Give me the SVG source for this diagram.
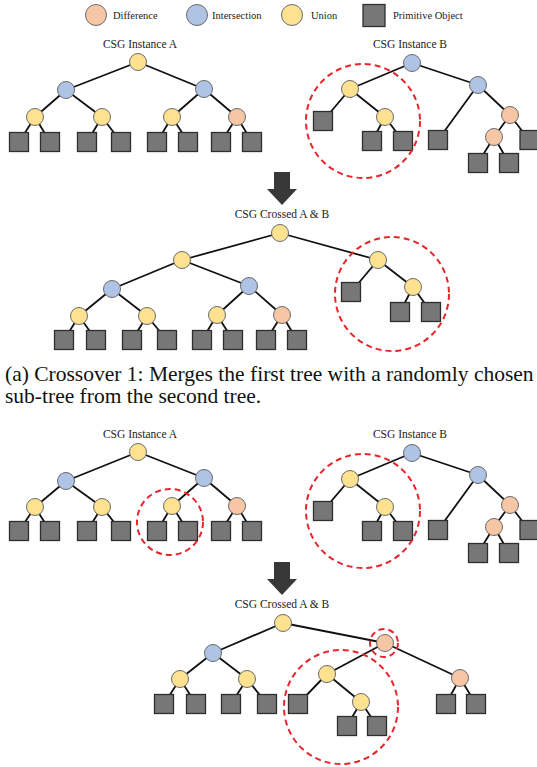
<svg xmlns="http://www.w3.org/2000/svg" width="537" height="767" viewBox="0 0 537 767">
<style>
.u{fill:#FEE290;stroke:#6b6b6b;stroke-width:1}
.i{fill:#AFC3E5;stroke:#6b6b6b;stroke-width:1}
.d{fill:#F6C6A5;stroke:#6b6b6b;stroke-width:1}
.p{fill:#777777;stroke:#2e2e2e;stroke-width:1.3}
.e{stroke:#111;stroke-width:1.8;fill:none}
.sel{fill:none;stroke:#E8252A;stroke-width:2;stroke-dasharray:6 4}
.t{font-family:"Liberation Serif",serif;font-size:11.5px;fill:#222;text-anchor:middle}
.lg{font-family:"Liberation Serif",serif;font-size:10.5px;fill:#222}
.cap{font-family:"Liberation Serif",serif;font-size:21.5px;fill:#111}
.arr{fill:#383838}
</style>

<g id="legend">
<g id="lg-diff"><circle class="d" cx="96" cy="15" r="10.5"/><text class="lg" x="113" y="19">Difference</text></g>
<g id="lg-inter"><circle class="i" cx="197" cy="15" r="10.5"/><text class="lg" x="212" y="19">Intersection</text></g>
<g id="lg-union"><circle class="u" cx="292" cy="15" r="10.5"/><text class="lg" x="311" y="19">Union</text></g>
<g id="lg-prim"><rect class="p" x="363" y="4.5" width="22" height="22"/><text class="lg" x="393" y="19">Primitive Object</text></g>
</g>

<!-- ===== Part (a) ===== -->
<g id="a-instA">
<text class="t" x="140" y="48">CSG Instance A</text>
<g id="a-instA-connectors">
<path class="e" d="M138,62L66,90M138,62L204,89M66,90L35,117M66,90L102,117M204,89L172,117M204,89L237,117M35,117L19,142M35,117L50,142M102,117L87,142M102,117L121,142M172,117L157,142M172,117L188,142M237,117L221,142M237,117L252,142"/>
</g>
<g id="aA-n1"><circle class="u" cx="138" cy="62" r="8.5"/></g>
<g id="aA-n2"><circle class="i" cx="66" cy="90" r="8.5"/></g>
<g id="aA-n3"><circle class="i" cx="204" cy="89" r="8.5"/></g>
<g id="aA-n4"><circle class="u" cx="35" cy="117" r="8.5"/></g>
<g id="aA-n5"><circle class="u" cx="102" cy="117" r="8.5"/></g>
<g id="aA-n6"><circle class="u" cx="172" cy="117" r="8.5"/></g>
<g id="aA-n7"><circle class="d" cx="237" cy="117" r="8.5"/></g>
<g id="aA-p1"><rect class="p" x="9.5" y="132.5" width="19" height="19"/></g>
<g id="aA-p2"><rect class="p" x="40.5" y="132.5" width="19" height="19"/></g>
<g id="aA-p3"><rect class="p" x="77.5" y="132.5" width="19" height="19"/></g>
<g id="aA-p4"><rect class="p" x="111.5" y="132.5" width="19" height="19"/></g>
<g id="aA-p5"><rect class="p" x="147.5" y="132.5" width="19" height="19"/></g>
<g id="aA-p6"><rect class="p" x="178.5" y="132.5" width="19" height="19"/></g>
<g id="aA-p7"><rect class="p" x="211.5" y="132.5" width="19" height="19"/></g>
<g id="aA-p8"><rect class="p" x="242.5" y="132.5" width="19" height="19"/></g>
</g>

<g id="a-instB">
<text class="t" x="410" y="48">CSG Instance B</text>
<g id="a-instB-connectors">
<path class="e" d="M412,63L350,89M412,63L478,85M350,89L323,121M350,89L385,117M385,117L372,141M385,117L403,141M478,85L438,140M478,85L510,115M510,115L494,137M510,115L529,140M494,137L478,163M494,137L509,163"/>
</g>
<g id="aB-n1"><circle class="i" cx="412" cy="63" r="8.5"/></g>
<g id="aB-n2"><circle class="u" cx="350" cy="89" r="8.5"/></g>
<g id="aB-n3"><circle class="i" cx="478" cy="85" r="8.5"/></g>
<g id="aB-n4"><circle class="u" cx="385" cy="117" r="8.5"/></g>
<g id="aB-n5"><circle class="d" cx="510" cy="115" r="8.5"/></g>
<g id="aB-n6"><circle class="d" cx="494" cy="137" r="8.5"/></g>
<g id="aB-p1"><rect class="p" x="313.5" y="111.5" width="19" height="19"/></g>
<g id="aB-p2"><rect class="p" x="362.5" y="131.5" width="19" height="19"/></g>
<g id="aB-p3"><rect class="p" x="393.5" y="131.5" width="19" height="19"/></g>
<g id="aB-p4"><rect class="p" x="428.5" y="130.5" width="19" height="19"/></g>
<g id="aB-p5"><rect class="p" x="520" y="130.5" width="19" height="19"/></g>
<g id="aB-p6"><rect class="p" x="468.5" y="153.5" width="19" height="19"/></g>
<g id="aB-p7"><rect class="p" x="499.5" y="153.5" width="19" height="19"/></g>
<g id="aB-sel"><circle class="sel" cx="363" cy="121" r="57"/></g>
</g>

<g id="a-arrow"><path class="arr" d="M274,172H290V189H297L282,205L267,189H274Z"/></g>

<g id="a-cross">
<text class="t" x="282" y="218">CSG Crossed A &amp; B</text>
<g id="a-cross-connectors">
<path class="e" d="M280,233L182,260M280,233L378,260M182,260L112,289M182,260L249,286M112,289L79,316M112,289L147,316M249,286L217,315M249,286L282,315M79,316L64,340M79,316L96,340M147,316L132,340M147,316L167,340M217,315L202,340M217,315L233,340M282,315L266,340M282,315L297,340M378,260L351,292M378,260L413,287M413,287L400,312M413,287L431,312"/>
</g>
<g id="aC-n1"><circle class="u" cx="280" cy="233" r="8.5"/></g>
<g id="aC-n2"><circle class="u" cx="182" cy="260" r="8.5"/></g>
<g id="aC-n3"><circle class="u" cx="378" cy="260" r="8.5"/></g>
<g id="aC-n4"><circle class="i" cx="112" cy="289" r="8.5"/></g>
<g id="aC-n5"><circle class="i" cx="249" cy="286" r="8.5"/></g>
<g id="aC-n6"><circle class="u" cx="79" cy="316" r="8.5"/></g>
<g id="aC-n7"><circle class="u" cx="147" cy="316" r="8.5"/></g>
<g id="aC-n8"><circle class="u" cx="217" cy="315" r="8.5"/></g>
<g id="aC-n9"><circle class="d" cx="282" cy="315" r="8.5"/></g>
<g id="aC-n10"><circle class="u" cx="413" cy="287" r="8.5"/></g>
<g id="aC-p1"><rect class="p" x="54.5" y="330.5" width="19" height="19"/></g>
<g id="aC-p2"><rect class="p" x="86.5" y="330.5" width="19" height="19"/></g>
<g id="aC-p3"><rect class="p" x="122.5" y="330.5" width="19" height="19"/></g>
<g id="aC-p4"><rect class="p" x="157.5" y="330.5" width="19" height="19"/></g>
<g id="aC-p5"><rect class="p" x="192.5" y="330.5" width="19" height="19"/></g>
<g id="aC-p6"><rect class="p" x="223.5" y="330.5" width="19" height="19"/></g>
<g id="aC-p7"><rect class="p" x="256.5" y="330.5" width="19" height="19"/></g>
<g id="aC-p8"><rect class="p" x="287.5" y="330.5" width="19" height="19"/></g>
<g id="aC-p9"><rect class="p" x="341.5" y="282.5" width="19" height="19"/></g>
<g id="aC-p10"><rect class="p" x="390.5" y="302.5" width="19" height="19"/></g>
<g id="aC-p11"><rect class="p" x="421.5" y="302.5" width="19" height="19"/></g>
<g id="aC-sel"><circle class="sel" cx="392" cy="294" r="57"/></g>
</g>

<g id="caption">
<text class="cap" x="5" y="381">(a)  Crossover 1: Merges the first tree with a randomly chosen</text>
<text class="cap" x="5" y="403">sub-tree from the second tree.</text>
</g>

<!-- ===== Part (b) ===== -->
<g id="b-instA">
<text class="t" x="140" y="438">CSG Instance A</text>
<g id="b-instA-connectors">
<path class="e" d="M138,452L66,481M138,452L204,478M66,481L35,507M66,481L102,507M204,478L172,506M204,478L237,506M35,507L19,531M35,507L50,531M102,507L87,531M102,507L121,531M172,506L157,531M172,506L188,531M237,506L221,531M237,506L252,531"/>
</g>
<g id="bA-n1"><circle class="u" cx="138" cy="452" r="8.5"/></g>
<g id="bA-n2"><circle class="i" cx="66" cy="481" r="8.5"/></g>
<g id="bA-n3"><circle class="i" cx="204" cy="478" r="8.5"/></g>
<g id="bA-n4"><circle class="u" cx="35" cy="507" r="8.5"/></g>
<g id="bA-n5"><circle class="u" cx="102" cy="507" r="8.5"/></g>
<g id="bA-n6"><circle class="u" cx="172" cy="506" r="8.5"/></g>
<g id="bA-n7"><circle class="d" cx="237" cy="506" r="8.5"/></g>
<g id="bA-p1"><rect class="p" x="9.5" y="521.5" width="19" height="19"/></g>
<g id="bA-p2"><rect class="p" x="40.5" y="521.5" width="19" height="19"/></g>
<g id="bA-p3"><rect class="p" x="77.5" y="521.5" width="19" height="19"/></g>
<g id="bA-p4"><rect class="p" x="111.5" y="521.5" width="19" height="19"/></g>
<g id="bA-p5"><rect class="p" x="147.5" y="521.5" width="19" height="19"/></g>
<g id="bA-p6"><rect class="p" x="178.5" y="521.5" width="19" height="19"/></g>
<g id="bA-p7"><rect class="p" x="211.5" y="521.5" width="19" height="19"/></g>
<g id="bA-p8"><rect class="p" x="242.5" y="521.5" width="19" height="19"/></g>
<g id="bA-sel"><circle class="sel" cx="170" cy="522" r="33"/></g>
</g>

<g id="b-instB">
<text class="t" x="410" y="438">CSG Instance B</text>
<g id="b-instB-connectors">
<path class="e" d="M412,453L350,479M412,453L478,475M350,479L323,511M350,479L385,507M385,507L372,531M385,507L403,531M478,475L438,530M478,475L510,505M510,505L494,527M510,505L529,530M494,527L478,553M494,527L509,553"/>
</g>
<g id="bB-n1"><circle class="i" cx="412" cy="453" r="8.5"/></g>
<g id="bB-n2"><circle class="u" cx="350" cy="479" r="8.5"/></g>
<g id="bB-n3"><circle class="i" cx="478" cy="475" r="8.5"/></g>
<g id="bB-n4"><circle class="u" cx="385" cy="507" r="8.5"/></g>
<g id="bB-n5"><circle class="d" cx="510" cy="505" r="8.5"/></g>
<g id="bB-n6"><circle class="d" cx="494" cy="527" r="8.5"/></g>
<g id="bB-p1"><rect class="p" x="313.5" y="501.5" width="19" height="19"/></g>
<g id="bB-p2"><rect class="p" x="362.5" y="521.5" width="19" height="19"/></g>
<g id="bB-p3"><rect class="p" x="393.5" y="521.5" width="19" height="19"/></g>
<g id="bB-p4"><rect class="p" x="428.5" y="520.5" width="19" height="19"/></g>
<g id="bB-p5"><rect class="p" x="520" y="520.5" width="19" height="19"/></g>
<g id="bB-p6"><rect class="p" x="468.5" y="543.5" width="19" height="19"/></g>
<g id="bB-p7"><rect class="p" x="499.5" y="543.5" width="19" height="19"/></g>
<g id="bB-sel"><circle class="sel" cx="363" cy="511" r="57"/></g>
</g>

<g id="b-arrow"><path class="arr" d="M274,562H290V579H297L282,595L267,579H274Z"/></g>

<g id="b-cross">
<text class="t" x="282" y="608">CSG Crossed A &amp; B</text>
<g id="b-cross-connectors">
<path class="e" d="M283,623L213,653M283,623L385,643M213,653L180,679M213,653L247,679M180,679L164,704M180,679L196,704M247,679L231,704M247,679L267,704M385,643L327,674M385,643L460,678M327,674L298,704M327,674L361,702M361,702L347,726M361,702L377,726M460,678L446,704M460,678L476,704"/>
</g>
<g id="bC-n1"><circle class="u" cx="283" cy="623" r="8.5"/></g>
<g id="bC-n2"><circle class="i" cx="213" cy="653" r="8.5"/></g>
<g id="bC-n3"><circle class="d" cx="385" cy="643" r="8.5"/></g>
<g id="bC-n4"><circle class="u" cx="180" cy="679" r="8.5"/></g>
<g id="bC-n5"><circle class="u" cx="247" cy="679" r="8.5"/></g>
<g id="bC-n6"><circle class="u" cx="327" cy="674" r="8.5"/></g>
<g id="bC-n7"><circle class="d" cx="460" cy="678" r="8.5"/></g>
<g id="bC-n8"><circle class="u" cx="361" cy="702" r="8.5"/></g>
<g id="bC-p1"><rect class="p" x="154.5" y="694.5" width="19" height="19"/></g>
<g id="bC-p2"><rect class="p" x="186.5" y="694.5" width="19" height="19"/></g>
<g id="bC-p3"><rect class="p" x="221.5" y="694.5" width="19" height="19"/></g>
<g id="bC-p4"><rect class="p" x="257.5" y="694.5" width="19" height="19"/></g>
<g id="bC-p5"><rect class="p" x="288.5" y="694.5" width="19" height="19"/></g>
<g id="bC-p6"><rect class="p" x="337.5" y="716.5" width="19" height="19"/></g>
<g id="bC-p7"><rect class="p" x="367.5" y="716.5" width="19" height="19"/></g>
<g id="bC-p8"><rect class="p" x="436.5" y="694.5" width="19" height="19"/></g>
<g id="bC-p9"><rect class="p" x="466.5" y="694.5" width="19" height="19"/></g>
<g id="bC-sel1"><circle class="sel" cx="384" cy="643" r="14"/></g>
<g id="bC-sel2"><circle class="sel" cx="341" cy="707" r="57"/></g>
</g>
</svg>
